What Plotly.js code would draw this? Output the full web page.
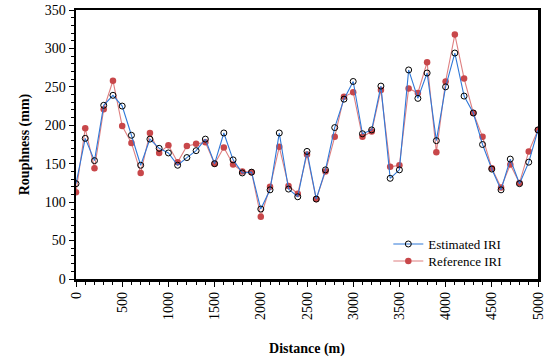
<!DOCTYPE html>
<html><head><meta charset="utf-8">
<script src="https://cdn.plot.ly/plotly-3.0.1.min.js"></script>
<style>body{margin:0}#c{width:550px;height:358px}</style>
</head><body><div id="c"></div>
<script>
const distance = [0,100,200,300,400,500,600,700,800,900,1000,1100,1200,1300,1400,1500,1600,1700,1800,1900,2000,2100,2200,2300,2400,2500,2600,2700,2800,2900,3000,3100,3200,3300,3400,3500,3600,3700,3800,3900,4000,4100,4200,4300,4400,4500,4600,4700,4800,4900,5000];
const estimatedIRI = [124,183,154,226,239,225,187,148,182,170,164,148,158,167,182,150,190,155,138,139,91,116,190,117,107,166,104,142,197,234,257,189,194,251,131,142,272,235,268,180,250,294,238,216,175,143,116,156,124,152,194];
const referenceIRI = [113,196,144,221,258,199,177,138,190,164,174,152,173,176,178,150,171,149,140,139,81,120,172,121,111,162,104,140,185,237,243,185,192,246,146,148,248,242,282,165,257,318,261,216,185,144,119,149,125,166,194];
const seriesNames = ["Estimated IRI","Reference IRI"];

const font = "Liberation Serif";
const traces = [
  {x: distance, y: referenceIRI, name: seriesNames[1], mode: "lines+markers", legend: "legend2",
   line: {color: "#DE7F80", width: 1.1},
   marker: {symbol: "circle", size: 6.5, color: "#C8474A"}},
  {x: distance, y: estimatedIRI, name: seriesNames[0], mode: "lines+markers", legend: "legend",
   line: {color: "#2F78D8", width: 1.1},
   marker: {symbol: "circle-open", size: 6, color: "#000000", line: {width: 1, color: "#000000"}}}
];
const legBase = {xanchor: "left", yanchor: "middle", bgcolor: "rgba(0,0,0,0)",
                 font: {family: font, size: 13, color: "#000"}, itemwidth: 30};
const layout = {
  width: 550, height: 358,
  margin: {l: 76, r: 12, t: 10, b: 79},
  paper_bgcolor: "#fff", plot_bgcolor: "#fff",
  font: {family: font, color: "#000", size: 14},
  showlegend: true,
  legend: Object.assign({x: 0.676, y: 0.13}, legBase),
  legend2: Object.assign({x: 0.676, y: 0.067}, legBase),
  xaxis: {range: [0, 5000], dtick: 500, tick0: 0, tickangle: -90,
          showgrid: false, zeroline: false,
          showline: true, linewidth: 2.5, linecolor: "#000", mirror: true,
          ticks: "outside", ticklen: 5, tickwidth: 1, tickcolor: "#000",
          minor: {dtick: 100, ticks: "outside", ticklen: 3, tickcolor: "#000", showgrid: false},
          tickfont: {family: font, size: 14, color: "#000"},
          title: {text: "<b>Distance (m)</b>", font: {family: font, size: 14, color: "#000"}, standoff: 24}},
  yaxis: {range: [0, 350], dtick: 50, tick0: 0,
          showgrid: false, zeroline: false,
          showline: true, linewidth: 2.5, linecolor: "#000", mirror: true,
          ticks: "outside", ticklen: 5, tickwidth: 1, tickcolor: "#000",
          minor: {dtick: 10, ticks: "outside", ticklen: 3, tickcolor: "#000", showgrid: false},
          tickfont: {family: font, size: 14, color: "#000"},
          title: {text: "<b>Rouphness (mm)</b>", font: {family: font, size: 14, color: "#000"}, standoff: 12}}
};
Plotly.newPlot("c", traces, layout, {displayModeBar: false, staticPlot: true});
</script></body></html>
